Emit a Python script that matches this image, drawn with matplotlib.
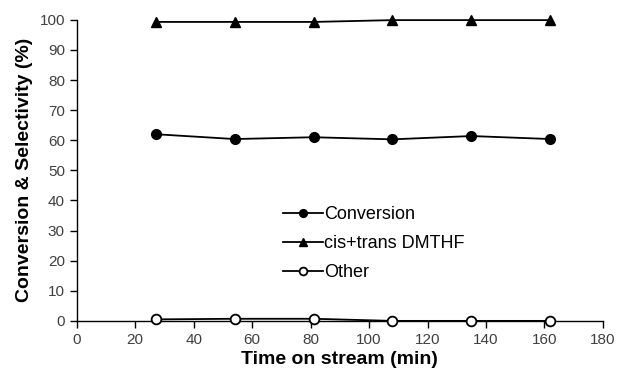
import matplotlib.pyplot as plt

plt.rcParams['font.family'] = ['Liberation Sans', 'DejaVu Sans']

time_min = [27, 54, 81, 108, 135, 162]
conversion = [62.0, 60.4, 61.0, 60.3, 61.4, 60.4]
dmthf = [99.3, 99.3, 99.3, 99.9, 99.9, 99.9]
other = [0.5, 0.7, 0.7, 0.0, 0.0, 0.0]

fig = plt.figure(figsize=(6.19, 3.74), dpi=100)
ax = fig.add_axes([0.124, 0.142, 0.850, 0.805])

ax.plot(time_min, conversion, color='black', lw=1.3, marker='o', ms=7,
        mfc='black', mec='black', label='Conversion', clip_on=False, zorder=3)
ax.plot(time_min, dmthf, color='black', lw=1.3, marker='^', ms=7,
        mfc='black', mec='black', label='cis+trans DMTHF', clip_on=False, zorder=3)
ax.plot(time_min, other, color='black', lw=1.3, marker='o', ms=7,
        mfc='white', mec='black', mew=1.3, label='Other', clip_on=False, zorder=3)

ax.set_xlim(0, 180)
ax.set_ylim(0, 100)
ax.set_xticks(range(0, 181, 20))
ax.set_yticks(range(0, 101, 10))
ax.tick_params(direction='out', length=5, width=1, labelsize=11,
               color='black', labelcolor='#404040')
for s in ['top', 'right']:
    ax.spines[s].set_visible(False)
for s in ['left', 'bottom']:
    ax.spines[s].set_linewidth(1)

ax.set_xlabel('Time on stream (min)', fontsize=14, fontweight='bold', labelpad=3)
ax.set_ylabel('Conversion & Selectivity (%)', fontsize=14, fontweight='bold', labelpad=5)

ax.legend(loc='upper left', bbox_to_anchor=(0.375, 0.41), frameon=False,
          fontsize=13, handlelength=2.2, handletextpad=0.05, labelspacing=0.65,
          borderpad=0, markerscale=0.8)

fig.savefig('out.png', dpi=100)
